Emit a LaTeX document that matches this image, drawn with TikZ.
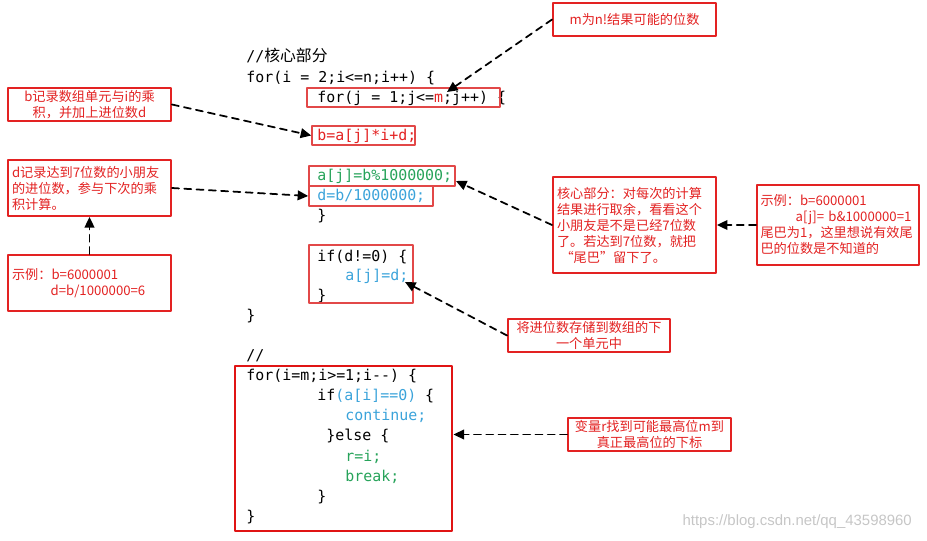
\documentclass[tikz,border=0pt]{standalone}
\usepackage{fontspec}
\setmonofont{DejaVu Sans Mono}
\newfontfamily\cjk{Noto Sans CJK SC}
\newfontfamily\wmfont{Liberation Sans}
\usetikzlibrary{arrows.meta,fit}
\definecolor{chudo}{HTML}{E32222}
\definecolor{khungdo}{HTML}{E24848}
\definecolor{khungdam}{HTML}{E01414}
\definecolor{maxanh}{HTML}{3BA3DA}
\definecolor{maluc}{HTML}{27A35A}
\begin{document}
\begin{tikzpicture}[x=0.02cm,y=-0.02cm,line cap=round,line join=round,
	ma/.style={font=\ttfamily\fontsize{8.5}{10}\selectfont,inner sep=0pt,anchor=base west},
	khung/.style={draw=khungdo,line width=0.9pt,inner sep=0pt},
	chuthich/.style={draw=chudo,line width=1.1pt,fill=white,inner sep=0pt,text=chudo,minimum width=3.26cm,font=\cjk\fontsize{7.5}{9.1}\selectfont},
	trai/.style={align=left,text width=3.1cm},
	muiten/.style={draw=black,line width=1pt,dash pattern=on 4pt off 3pt,-{Triangle[length=6pt,width=5.5pt]}}]
	\useasboundingbox (0,0) rectangle (927,541);
	
	%phần lõi
	\node[ma] (c1) at (246,61) {//{\cjk\fontsize{9}{10}\selectfont 核心部分}};
	\node[ma] (c2) at (246,82) {for(i = 2;i<=n;i++) \{};
	\node[ma] (c3) at (317,102) {for(j = 1;j<=\textcolor{chudo}{m};j++) \{};
	\node[ma,text=chudo] (c4) at (317,140) {b=a[j]*i+d;};
	\node[ma,text=maluc] (c5) at (317,180) {a[j]=b\%1000000;};
	\node[ma,text=maxanh] (c6) at (317,200) {d=b/1000000;};
	\node[ma] (c7) at (317,220) {\}};
	\node[ma] (c8) at (317,261) {if(d!=0) \{};
	\node[ma,text=maxanh] (c9) at (345,280) {a[j]=d;};
	\node[ma] (c10) at (317,300) {\}};
	\node[ma] (c11) at (246,320) {\}};
	
	%tìm vị trí cao nhất
	\node[ma] (c12) at (246,360) {//};
	\node[ma] (c13) at (246,380) {for(i=m;i>=1;i-{}-) \{};
	\node[ma] (c14) at (317,400) {if\textcolor{maxanh}{(a[i]==0)} \{};
	\node[ma,text=maxanh] (c15) at (345,420) {continue;};
	\node[ma] (c16) at (326,440) {\}else \{};
	\node[ma,text=maluc] (c17) at (345,461) {r=i;};
	\node[ma,text=maluc] (c18) at (345,481) {break;};
	\node[ma] (c19) at (317,501) {\}};
	\node[ma] (c20) at (246,521) {\}};
	
	%khung
	\node[khung,fit={(307,88) (500,107)}] (hopj) {};
	\node[khung,fit={(312,126) (415,145)}] (hopb) {};
	\node[khung,fit={(309,166) (455,186)}] (hopa) {};
	\node[khung,fit={(309,186) (433,206)}] (hopd) {};
	\node[khung,fit={(309,245) (413,303)}] (hopif) {};
	\node[khung,draw=khungdam,line width=1.7pt,fit={(235,366) (452,531)}] (hopfor) {};
	
	%chú thích
	\node[chuthich,minimum height=0.66cm] (ghim) at (634.5,19.5) {m为n!结果可能的位数};
	\node[chuthich,align=center,minimum height=0.66cm] (ghib) at (89.5,104.5) {b记录数组单元与i的乘\\积，并加上进位数d};
	\node[chuthich,trai,minimum height=1.12cm] (ghid) at (89.5,188) {d记录达到7位数的小朋友\\的进位数，参与下次的乘\\积计算。};
	\node[chuthich,trai,minimum height=1.12cm] (vidud) at (89.5,283) {示例：b=6000001\\\hspace*{22pt}d=b/1000000=6};
	\node[chuthich,trai,minimum height=1.92cm] (loi) at (634.5,225) {核心部分：对每次的计算\\结果进行取余，看看这个\\小朋友是不是已经7位数\\了。若达到7位数，就把\\\hspace*{2pt}“尾巴”留下了。};
	\node[chuthich,trai,minimum width=3.24cm,minimum height=1.6cm] (viduab) at (838,225) {示例：b=6000001\\\hspace*{20pt}a[j]= b\&1000000=1\\尾巴为1，这里想说有效尾\\巴的位数是不知道的};
	\node[chuthich,align=center,minimum width=3.24cm,minimum height=0.66cm] (luu) at (589,335.5) {将进位数存储到数组的下\\一个单元中};
	\node[chuthich,align=center,minimum height=0.66cm] (bienr) at (649.5,434.5) {变量r找到可能最高位m到\\真正最高位的下标};
	
	%mũi tên
	\coordinate (dm) at (447,92);
	\coordinate (da) at (456,181);
	\coordinate (dd) at (405,282);
	\draw[muiten] (ghim.west) -- (dm);
	\draw[muiten] (ghib.east) -- (hopb.west);
	\draw[muiten] (ghid.east) -- (hopd.west);
	\draw[muiten] (vidud.north) -- (ghid.south);
	\draw[muiten] (loi.west) -- (da);
	\draw[muiten] (viduab.west) -- (loi.east);
	\draw[muiten] (luu.west) -- (dd);
	\draw[muiten] (bienr.west) -- (hopfor.east |- bienr.west);
	
	\node[text=gray!45,font=\wmfont\fontsize{8.5}{10}\selectfont,anchor=east] (dauvet) at (918,522) {https://blog.csdn.net/qq\_43598960};
\end{tikzpicture}
\end{document}
